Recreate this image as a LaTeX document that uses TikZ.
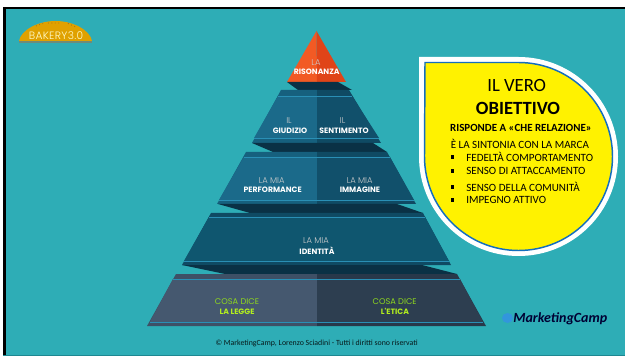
\documentclass[tikz,border=0pt]{standalone}
\usepackage{xcolor}
\usepackage{fontspec}
\setmainfont{Carlito}
\newfontfamily\tierfont{Poppins}
\newfontfamily\tierlight{Poppins Light}
\newfontfamily\bakeryfont[LetterSpace=3]{Poppins Light}
\definecolor{slidebg}{HTML}{2EADB6}
\definecolor{tierL}{HTML}{1B6A8A}
\definecolor{tierR}{HTML}{11506B}
\definecolor{tierM}{HTML}{0F566F}
\definecolor{bandL}{HTML}{16607E}
\definecolor{bandR}{HTML}{0F4A63}
\definecolor{baseL}{HTML}{45586F}
\definecolor{baseR}{HTML}{2D3E50}
\definecolor{glow}{HTML}{2A8FB5}
\definecolor{undertier}{HTML}{0A3145}
\definecolor{limetext}{HTML}{8FD81E}
\definecolor{limebold}{HTML}{B2EE1E}
\tikzset{
  tierthin/.style={inner sep=0.75pt,text=white!80!black,font=\tierlight\fontsize{6.3}{7}\selectfont},
  tierbold/.style={inner sep=0.75pt,text=white,font=\tierfont\bfseries\fontsize{5.8}{7}\selectfont},
  basethin/.style={tierthin,text=limetext,font=\tierfont\fontsize{6.2}{7}\selectfont},
  basebold/.style={tierbold,text=limebold},
  bullet/.style={fill=black,minimum size=2.6pt,inner sep=0pt},
  itemtext/.style={anchor=west,inner sep=0.75pt,font=\fontsize{8.3}{9}\selectfont},
  glowline/.style={color=glow,line width=0.7pt}
}

\begin{document}
\begin{tikzpicture}[x=0.75pt,y=0.75pt,yscale=-1,xscale=1]
\useasboundingbox (0,0) rectangle (625,356);

% Frame
\fill [black] (3,7) rectangle (625,355);
\fill [slidebg] (6,9.5) rectangle (625,355);
\fill [color={rgb, 255:red, 30; green, 135; blue, 145 }] (3,355) rectangle (625,356);

% Logo dome
\fill [color={rgb, 255:red, 110; green, 139; blue, 122 }] (19,41) rectangle (92,43);
\fill [color={rgb, 255:red, 224; green, 161; blue, 0 }] (19,41) .. controls (21,30) and (38,21) .. (55.5,21) .. controls (73,21) and (90,30) .. (92,41) -- cycle;
\draw [color={rgb, 255:red, 170; green, 110; blue, 20 }, line width=0.6pt, dotted] (36,26) -- (43,23.5) (48,23) -- (59,23) (68,23.5) -- (76,27) ;

% Top tier
\fill [color={rgb, 255:red, 242; green, 90; blue, 36 }] (316.5,31) -- (287,82) -- (317,82) -- cycle;
\fill [color={rgb, 255:red, 224; green, 68; blue, 24 }] (316.5,31) -- (346,82) -- (317,82) -- cycle;
\fill [undertier] (287,82) -- (338,82) -- (352,90) -- (298,90) -- cycle;

% Second tier
\fill [bandL] (281,90) -- (317,90) -- (317,143) -- (252,143) -- cycle;
\fill [bandR] (349,90) -- (317,90) -- (317,143) -- (381,143) -- cycle;
\fill [tierL] (278,96) -- (317,96) -- (317,138) -- (254,138) -- cycle;
\fill [tierR] (352,96) -- (317,96) -- (317,138) -- (379,138) -- cycle;
\draw [glowline] (278,96) -- (352,96) (254,138) -- (379,138) ;
\fill [undertier] (252,143) -- (373,143) -- (387,152) -- (273,152) -- cycle;

% Third tier
\fill [bandL] (246,152) -- (317,152) -- (317,204) -- (217,204) -- cycle;
\fill [bandR] (387,152) -- (317,152) -- (317,204) -- (416,204) -- cycle;
\fill [tierL] (244,157) -- (317,157) -- (317,200) -- (219,200) -- cycle;
\fill [tierR] (390,157) -- (317,157) -- (317,200) -- (414,200) -- cycle;
\draw [glowline] (244,157) -- (390,157) (219,200) -- (414,200) ;
\fill [undertier] (218,204) -- (397,204) -- (423,213) -- (250,213) -- cycle;

% Fourth tier
\fill [bandR] (211,213) -- (423,213) -- (451,265) -- (182,265) -- cycle;
\fill [tierM] (209,217) -- (425,217) -- (449,261) -- (184,261) -- cycle;
\draw [glowline] (209,217) -- (425,217) (184,261) -- (449,261) ;
\fill [undertier] (182,265) -- (422,265) -- (457,274) -- (225,274) -- cycle;

% Base tier
\fill [color={rgb, 255:red, 62; green, 80; blue, 102 }] (176,274) -- (317,274) -- (317,326) -- (147,326) -- cycle;
\fill [color={rgb, 255:red, 40; green, 56; blue, 74 }] (457,274) -- (317,274) -- (317,326) -- (486,326) -- cycle;
\fill [baseL] (173,279) -- (317,279) -- (317,322) -- (150,322) -- cycle;
\fill [baseR] (460,279) -- (317,279) -- (317,322) -- (483,322) -- cycle;
\draw [glowline] (173,279) -- (460,279) (150,322) -- (483,322) ;

% Callout
\fill [white] (419,57) -- (518.5,57) arc [start angle=-90, end angle=180, radius=99.5] -- cycle;
\draw [color={rgb, 255:red, 20; green, 110; blue, 190 }, fill=yellow, line width=1.1pt] (425,62.5) -- (518.5,62.5) arc [start angle=-90, end angle=180, radius=94] -- cycle;

% Text Node
\node (bakery) at (56,35.5) [inner sep=0pt,text=white!80!yellow,font=\bakeryfont\fontsize{8}{10}\selectfont] {BAKERY3.0};
% Text Node
\node (laone) at (316,62.7) [tierthin] {LA};
\node (risonanza) at (316.7,72) [tierbold] {RISONANZA};
% Text Node
\node (ilgiu) at (289,120.7) [tierthin] {IL};
\node (giudizio) at (290,130.7) [tierbold] {GIUDIZIO};
\node (ilsen) at (342.7,120.7) [tierthin] {IL};
\node (sentimento) at (344,130.7) [tierbold] {SENTIMENTO};
% Text Node
\node (miaper) at (271.7,181) [tierthin] {LA MIA};
\node (performance) at (272.7,190) [tierbold] {PERFORMANCE};
\node (miaimm) at (359.7,181) [tierthin] {LA MIA};
\node (immagine) at (360,190) [tierbold] {IMMAGINE};
% Text Node
\node (miaide) at (316,241) [tierthin] {LA MIA};
\node (identita) at (317,250.7) [tierbold] {IDENTITÀ};
% Text Node
\node (dicelegge) at (237,301.7) [basethin] {COSA DICE};
\node (legge) at (237,311.7) [basebold] {LA LEGGE};
\node (diceetica) at (394.7,301.7) [basethin] {COSA DICE};
\node (etica) at (395,311.7) [basebold] {L'ETICA};
% Text Node
\node (copy) at (316.7,343) [inner sep=0.75pt,text=black!85!slidebg,font=\fontsize{5.9}{8}\selectfont] {© MarketingCamp, Lorenzo Sciadini - Tutti i diritti sono riservati};
% Text Node
\node (vero) at (516.7,86) [inner sep=0.75pt,font=\fontsize{14}{16}\selectfont] {IL VERO};
\node (obiettivo) at (518,108) [inner sep=0.75pt,font=\bfseries\fontsize{14}{16}\selectfont] {OBIETTIVO};
\node (risponde) at (521,128) [inner sep=0.75pt,font=\bfseries\fontsize{8.2}{9}\selectfont] {RISPONDE A «CHE RELAZIONE»};
\node (sintonia) at (449.5,144) [itemtext] {È LA SINTONIA CON LA MARCA};
% Text Node
\node (itemone) at (465,157) [itemtext] {FEDELTÀ COMPORTAMENTO};
\node (itemtwo) at (465,171) [itemtext] {SENSO DI ATTACCAMENTO};
\node (itemthree) at (465,187) [itemtext] {SENSO DELLA COMUNITÀ};
\node (itemfour) at (465,200) [itemtext] {IMPEGNO ATTIVO};
\node (dotone) at (452.7,157) [bullet] {};
\node (dottwo) at (452.7,171) [bullet] {};
\node (dotthree) at (452.7,187) [bullet] {};
\node (dotfour) at (452.7,200) [bullet] {};
% Logo
\fill [color={rgb, 255:red, 50; green, 150; blue, 220 }] (507.5,318) circle [x radius=5.5, y radius=5];
\node (camp) at (513,319) [anchor=west,inner sep=0pt,text=black!80!blue,font=\rmfamily\itshape\bfseries\fontsize{10.5}{12}\selectfont] {MarketingCamp};

\end{tikzpicture}
\end{document}
